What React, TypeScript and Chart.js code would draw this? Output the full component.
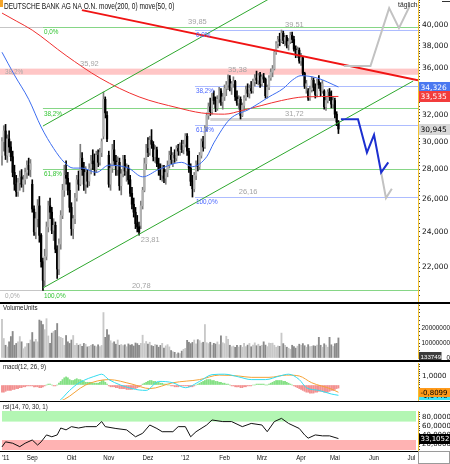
import React, { useEffect, useRef } from 'react';
import { Chart, registerables } from 'chart.js';

Chart.register(...registerables);

// ---------------- data (trading-day index 0 = 9 Aug 2011) ----------------
const title = 'DEUTSCHE BANK AG NA O.N. move(200, 0) move(50, 0)';

// [open, high, low, close]
const ohlc: number[][] = [
  // Aug 2011
  [29.0,30.3,28.3,30.0],[30.0,31.2,29.3,30.8],[30.8,31.3,28.7,29.0],[29.0,30.5,28.5,30.2],[30.2,30.8,29.2,29.6],
  [29.6,30.0,28.6,28.9],[28.9,29.3,27.5,27.8],[27.8,28.3,26.6,27.0],[27.0,27.6,26.2,26.5],[26.5,27.4,26.2,27.1],
  [27.1,27.9,26.6,27.5],[27.5,28.0,26.8,27.0],[27.0,27.6,26.5,27.3],[27.3,28.1,27.0,27.8],[27.8,28.6,27.4,28.3],
  [28.3,28.8,27.6,28.0],[28.0,28.7,27.5,28.4],
  // Sep
  [27.0,27.3,25.2,25.4],[25.4,25.6,23.8,24.0],[24.0,25.2,23.6,24.8],[24.8,26.0,24.3,25.6],[25.6,26.2,23.4,23.8],
  [23.8,23.9,22.0,22.3],[22.3,22.5,20.78,21.3],[21.3,23.0,21.0,22.6],[22.6,24.6,22.4,24.3],[24.3,25.9,24.0,25.6],
  [25.6,26.1,24.8,25.2],[25.2,25.5,23.9,24.1],[24.1,24.8,23.5,24.4],[24.4,24.6,22.8,23.0],[23.0,23.2,21.4,21.9],
  [21.9,23.6,21.6,23.3],[23.3,25.3,23.0,25.0],[25.0,27.0,24.8,26.6],[26.6,28.3,26.2,27.6],[27.6,28.6,27.0,27.4],
  [27.4,27.8,26.3,26.6],[26.6,27.1,25.2,25.5],
  // Okt
  [25.5,25.8,23.8,24.2],[24.2,25.0,23.6,24.8],[24.8,26.4,24.5,26.1],[26.1,27.6,25.9,27.3],[27.3,27.9,26.6,27.0],
  [27.0,29.8,26.9,28.8],[28.8,29.2,27.6,28.0],[28.0,28.5,26.6,27.0],[27.0,28.2,26.4,27.8],[27.8,28.0,26.8,27.2],
  [27.2,28.4,26.9,28.1],[28.1,29.0,27.7,28.6],[28.6,29.4,28.0,28.4],[28.4,29.1,27.6,28.0],[28.0,29.3,27.8,29.0],
  [29.0,29.4,28.2,28.5],[28.5,29.5,28.3,29.2],[29.2,30.2,28.9,30.0],[30.4,33.9,30.2,33.3],[33.3,33.5,31.8,32.2],
  [32.0,32.3,30.0,30.2],
  // Nov
  [29.0,29.3,26.8,27.0],[27.0,28.4,26.6,28.1],[28.1,29.8,27.8,29.4],[29.4,30.1,28.3,28.6],[28.6,29.0,27.6,28.0],
  [28.0,28.9,27.6,28.5],[28.5,28.8,26.6,26.9],[26.9,28.0,26.3,27.7],[27.7,29.0,27.5,28.7],[28.7,29.0,27.6,27.9],
  [27.9,28.4,27.2,28.1],[28.1,28.3,27.0,27.3],[27.3,27.6,26.2,26.4],[26.4,26.8,25.4,25.7],[25.7,26.1,24.9,25.2],
  [25.2,25.5,24.2,24.5],[24.5,25.0,24.0,24.3],[24.3,24.6,23.81,24.0],[24.4,25.9,24.2,25.6],[25.6,26.8,25.4,26.6],
  [26.6,28.8,26.5,28.4],[28.4,29.8,28.0,29.5],
  // Dez
  [29.5,30.3,28.9,29.2],[29.2,30.4,29.0,30.1],[30.1,30.9,29.5,29.8],[29.8,30.0,28.6,28.9],[28.9,29.7,28.5,29.4],
  [29.4,29.6,28.2,28.4],[28.4,28.8,27.6,28.0],[28.0,28.4,27.3,27.6],[27.6,28.3,27.2,28.0],[28.0,28.3,27.1,27.4],
  [27.4,28.0,27.0,27.8],[27.8,28.6,27.5,28.3],[28.3,29.3,28.1,29.0],[29.0,29.6,28.4,28.7],[28.7,29.2,28.2,29.0],
  [29.0,29.4,28.5,28.8],[28.8,29.7,28.6,29.5],[29.5,29.8,29.0,29.3],[29.3,29.9,29.0,29.7],[29.7,30.1,29.2,29.4],
  [29.4,30.1,29.1,29.8],
  // Jan 2012
  [29.8,30.6,29.6,30.4],[30.4,30.6,29.0,29.3],[29.3,29.5,27.8,28.1],[28.1,28.4,26.9,27.2],[27.2,27.6,26.16,26.7],
  [26.7,27.8,26.5,27.6],[27.6,28.6,27.3,28.4],[28.4,29.0,27.9,28.2],[28.2,29.2,28.0,29.0],[29.0,30.2,28.8,30.0],
  [30.0,30.4,29.3,29.6],[29.6,31.2,29.5,31.0],[31.0,32.2,30.8,32.0],[32.0,33.0,31.7,32.7],[32.7,33.4,32.0,32.3],
  [32.3,33.8,32.1,33.5],[33.5,34.0,32.9,33.2],[33.2,33.5,32.3,32.6],[32.6,33.6,32.4,33.3],[33.3,34.3,33.0,34.0],
  [34.0,34.2,32.8,33.1],[33.1,33.8,32.5,33.5],
  // Feb
  [33.5,34.5,33.2,34.2],[34.2,34.8,33.6,34.5],[34.5,35.38,34.1,35.0],[35.0,35.3,34.0,34.3],[34.3,34.8,33.7,34.6],
  [34.6,35.2,34.3,34.8],[34.8,34.9,33.2,33.5],[33.5,34.0,32.8,33.0],[33.0,33.6,32.5,33.3],[33.3,33.5,31.72,32.0],
  [32.0,33.0,31.9,32.8],[32.8,33.6,32.4,33.4],[33.4,34.4,33.2,34.1],[34.1,34.6,33.5,33.8],[33.8,34.5,33.4,34.2],
  [34.2,34.8,33.8,34.0],[34.0,35.0,33.8,34.8],[34.8,35.4,34.4,35.1],[35.1,35.7,34.6,34.9],[34.9,35.5,34.5,35.3],
  [35.3,35.6,34.3,34.6],
  // Mrz
  [34.6,35.4,34.4,35.2],[35.2,35.5,34.7,35.0],[35.0,35.1,33.4,33.6],[33.6,34.5,33.4,34.3],[34.3,35.3,34.1,35.1],
  [35.1,35.9,34.9,35.6],[35.6,36.2,35.2,35.9],[35.9,37.6,35.8,37.4],[37.4,38.4,37.2,38.2],[38.2,38.9,37.8,38.6],
  [38.6,39.2,38.0,38.4],[38.4,39.51,38.3,39.2],[39.2,39.4,38.2,38.5],[38.5,39.0,38.0,38.8],[38.8,39.0,37.8,38.1],
  [38.1,38.7,37.6,38.4],[38.4,39.3,38.2,39.0],[39.0,39.3,38.3,38.6],[38.6,38.9,37.5,37.7],[37.7,38.0,36.9,37.2],
  [37.2,37.9,36.9,37.6],[37.6,37.8,36.4,36.6],
  // Apr / Mai
  [36.6,37.3,36.2,36.9],[36.9,37.0,35.3,35.5],[35.5,35.6,34.2,34.4],[34.4,34.9,33.8,34.6],[34.0,34.2,33.2,33.4],
  [33.4,34.4,33.2,34.1],[34.1,35.2,33.9,34.9],[34.9,35.1,34.0,34.3],[34.3,34.6,33.4,33.7],[33.7,35.0,33.5,34.8],
  [34.8,35.3,34.2,34.5],[34.5,34.7,33.6,34.0],[34.0,34.9,33.8,34.6],[34.0,34.1,32.5,32.7],[32.7,33.5,32.4,33.2],
  [33.2,34.1,33.0,33.9],[33.9,34.2,33.2,33.5],[33.5,34.0,32.6,32.9],[32.9,33.5,32.6,33.2],[33.2,33.4,31.8,32.1],
  [32.1,32.3,31.2,31.5],[31.5,31.6,30.6,30.945],
];

// volume in millions
const volumeM = [
  25.7,13,8.5,7.4,10.8,14.3,17.7,8.5,9.7,10.8,14.3,10.8,6.2,7.4,9.7,9.7,12,
  17,10.8,12.4,10.8,25.3,24.6,22.3,18.9,26.2,14.7,9.7,16.6,17.7,18.4,23,14.3,13.8,13.1,8.5,15,10.8,9.7,
  12,15,8.5,9.7,8.5,9.2,7.8,9.7,9.2,7.4,7.8,8.5,9,8,7.5,8.8,7.6,8.4,30.3,13.8,19,
  15.4,11.5,10,10.8,9.2,12,8.5,9,8.2,8.8,7.5,9.4,8.6,9,8,10,9.6,8.4,9.8,15.2,9.6,11,
  9.2,10.5,8.3,7.8,9,8.6,7.2,8.4,9.8,6.6,8.1,8.9,7.4,5,4.2,3.8,2.6,3.4,2.9,4.6,5.8,
  6.4,11.8,10.5,9.6,10.4,12,9.4,12.2,11.6,10,10.5,22.3,10.2,9.6,10.5,8.6,9.8,9.3,10.7,8.9,14.7,10.2,
  9.6,14.5,12.4,8.5,7.5,8,7.1,8.5,7.3,8.4,7.2,9.8,7.6,8.6,9.7,7.5,8.6,10.1,8.2,9.2,7.9,
  8.5,10.8,8.6,7.6,10,9.8,9.9,8.5,7.2,8,7.8,16.6,9.6,8.4,7.2,6.5,5.8,8.5,7.6,6.6,7.9,9.2,
  8.4,9.6,8.2,7.2,8.9,7.6,7.8,8.2,7.9,8.6,13.8,8.5,7.2,9.5,8.6,7.2,13.8,8.8,7.7,9.5,9.8,13.3749,
];

const ma200Idx = [0, 8, 17, 36, 55, 77, 99, 112, 125, 135, 146, 157, 170, 189];
const ma200Val = [41.2, 40.4, 39.5, 37.1, 35.1, 33.5, 32.6, 32.2, 32.1, 32.4, 32.8, 33.2, 33.5, 33.535];
const ma50Idx = [0, 7, 15, 22, 29, 35, 40, 45, 53, 60, 71, 79, 88, 101, 107, 115, 119, 128, 139, 150, 158, 163, 168, 177, 189];
const ma50Val = [37.4, 35.35, 33.3, 31.1, 29.5, 28.5, 28.1, 28.1, 27.8, 28.3, 28.1, 27.5, 28.0, 28.5, 28.2, 28.9, 29.9, 31.7, 32.5, 33.5, 34.2, 34.9, 35.3, 35.1, 34.326];

const macdIdx = [0, 21, 32, 38, 43, 54, 56, 60, 73, 81, 88, 96, 103, 111, 118, 125, 133, 140, 148, 156, 161, 167, 171, 178, 185, 189];
const macdVal = [-3.0, -2.6, -1.8, -0.6, 0.2, 1.1, 1.2, 0.6, -0.4, -0.6, 0.4, 0.25, -0.3, 0.4, 1.15, 1.2, 0.9, 0.6, 0.6, 1.0, 1.2, 0.6, -0.3, -0.6, -1.0, -1.1446];
const signalIdx = [0, 21, 35, 47, 60, 73, 83, 96, 111, 122, 133, 140, 150, 160, 167, 174, 185, 189];
const signalVal = [-2.2, -2.4, -1.6, 0, 0.6, 0.1, -0.4, 0.25, 0.6, 1.1, 1.0, 0.85, 0.85, 1.1, 1.0, 0.25, -0.45, -0.8099];
const macdHist = [
  -0.8,-0.8,-0.7,-0.6,-0.6,-0.6,-0.5,-0.5,-0.4,-0.4,-0.3,-0.3,-0.2,-0.2,-0.1,-0.1,-0.1,
  -0.1,-0.2,-0.2,-0.2,-0.3,-0.3,-0.2,-0.1,0,0.1,0.1,0,-0.1,-0.1,0,0.2,0.4,0.6,0.8,0.9,0.8,0.6,
  0.5,0.5,0.6,0.7,0.6,0.6,0.5,0.4,0.3,0.3,0.3,0.3,0.2,0.2,0.2,0.2,0.3,0.5,0.5,0.3,0.1,
  -0.1,-0.2,-0.2,-0.2,-0.3,-0.3,-0.4,-0.4,-0.4,-0.4,-0.5,-0.5,-0.5,-0.5,-0.4,-0.4,-0.3,-0.2,-0.1,0.1,0.2,0.3,
  0.4,0.5,0.5,0.4,0.4,0.3,0.3,0.2,0.2,0.1,0.1,0,0,-0.1,-0.1,-0.2,-0.2,-0.2,-0.1,-0.1,-0.1,
  -0.1,-0.1,-0.2,-0.2,-0.2,-0.1,0,0.1,0.2,0.3,0.4,0.5,0.6,0.6,0.6,0.5,0.5,0.4,0.4,0.3,0.3,0.2,
  0.2,0.1,0.1,0,-0.1,-0.1,-0.2,-0.2,-0.2,-0.3,-0.3,-0.2,-0.2,-0.1,-0.1,-0.1,0,0,0.1,0.1,0.1,
  0.1,0.1,0,0,0.1,0.2,0.3,0.4,0.5,0.5,0.5,0.5,0.4,0.4,0.3,0.2,0.1,0,-0.1,-0.2,-0.3,-0.4,
  -0.5,-0.6,-0.7,-0.8,-0.8,-0.9,-0.9,-0.9,-0.8,-0.8,-0.7,-0.7,-0.7,-0.8,-0.8,-0.8,-0.7,-0.6,-0.6,-0.5,-0.4,-0.34,
];

const rsiIdx = [0,2,6,10,13,17,20,22,25,28,31,33,36,39,43,47,53,56,58,64,70,75,79,83,87,90,96,99,103,106,109,115,118,124,129,135,140,146,149,153,157,161,167,170,172,176,180,184,189];
const rsiVal = [15,26,23,15.5,23,30,19,26,41,37,41,56,52,59,56,59,59,70,59,55,52,37,44.5,62.6,55,48,48,59,59,37,48,62.6,73.5,70,70,59,66,62.6,48,70,77,66,55,41,34,41,39,39,33.1052];

const monthIdx = [2, 17, 39, 60, 82, 103, 125, 146, 168, 187, 209, 230];
const monthLabels = ["'11", 'Sep', 'Okt', 'Nov', 'Dez', "'12", 'Feb', 'Mrz', 'Apr', 'Mai', 'Jun', 'Jul'];

const priceTickLabels = [22, 24, 26, 28, 30, 32, 34, 36, 38, 40];
const volumeTickLabels = [0, 10, 20];
const macdTickLabels = [-1, 1];
const rsiTickLabels = [20, 40, 60, 80];
const rsiBands = [30, 70];

// drawing objects (date index / price)
const greenFibStart = 23;
const greenFibLevels = [39.85, 32.57, 28.06, 20.78];
const blueFibStart = 108.4;
const blueFibLevels = [39.51, 34.41, 31.26, 26.16];
const fibLabels = ['0,0%', '38,2%', '61,8%', '100,0%'];
const pinkBand = [35.38, 35.92];
const supportLevel = 31.72;
const supportSpan = [117, 187];
const markLevels = [39.85, 39.51, 35.92, 35.38, 31.72, 26.16, 23.81, 20.78];
const markIdx = [104.5, 159, 43.8, 127, 159, 133, 78, 73];
const markBelow = [false, false, false, false, false, false, true, false];
const leftLabelIdx = 1.7;

const redTrendIdx = [44.9, 233.7];
const redTrendVal = [41.5, 34.9];
const channelLowIdx = [23, 231];
const channelLowVal = [20.9, 34.84];
const channelHighIdx = [23, 160];
const channelHighVal = [31.17, 43.73];

const blueProjIdx = [190.4, 200, 205, 209, 213, 217];
const blueProjVal = [31.7, 31.7, 29.2, 30.5, 27.8, 28.5];
const greyProjUpIdx = [192, 207, 217.5, 223, 229];
const greyProjUpVal = [36.15, 36.15, 41.7, 39.7, 41.9];
const greyProjDownIdx = [213, 215.7, 219];
const greyProjDownVal = [27.8, 26.1, 26.7];

// ---------------- layout / helpers ----------------
const W = 450;
const AXIS_W = 32;
const X_MIN = -1.12;
const X_MAX = 233.7;
const P_MIN = 20.19;
const P_MAX = 42.55;
const UI_FONT = '"Liberation Sans", Arial, sans-serif';
const AX_FONT = '"DejaVu Sans", Verdana, sans-serif';

const comma = (v: number, d: number) => v.toFixed(d).replace('.', ',');
const last = (a: any[]) => a[a.length - 1];
const pts = (xs: number[], ys: number[]) => xs.map((x, i) => ({ x, y: ys[i] }));
const tickRange = (a: number, b: number, s: number) => {
  const out: number[] = [];
  for (let v = a; v <= b + 1e-9; v += s) out.push(Math.round(v * 1000) / 1000);
  return out;
};

function fixAxis(s: any) {
  s.width = AXIS_W;
  s.paddingTop = 0; s.paddingBottom = 0; s.paddingLeft = 0; s.paddingRight = 0;
}

function uiText(ctx: any, text: string, x: number, y: number, size: number, color: string, sx = 0.82, align = 'left', baseline = 'middle') {
  ctx.save();
  ctx.translate(x, y);
  ctx.scale(sx, 1);
  ctx.font = `${size}px ${UI_FONT}`;
  ctx.fillStyle = color;
  ctx.textAlign = align;
  ctx.textBaseline = baseline;
  ctx.fillText(text, 0, 0);
  ctx.restore();
}

function seg(ctx: any, x1: number, x2: number, y: number, color: string, lw = 1) {
  ctx.save();
  ctx.strokeStyle = color;
  ctx.lineWidth = lw;
  const yy = lw % 2 === 1 ? Math.round(y) + 0.5 : Math.round(y);
  ctx.beginPath();
  ctx.moveTo(x1, yy);
  ctx.lineTo(x2, yy);
  ctx.stroke();
  ctx.restore();
}

function tag(ctx: any, chart: any, y: number, text: string, bg: string, fg: string, h = 11, size = 7.5, w = 0, font = AX_FONT) {
  const x0 = chart.chartArea.right + 1;
  const ww = w || chart.width - x0;
  const top = Math.round(y - h / 2);
  ctx.save();
  ctx.fillStyle = bg;
  ctx.fillRect(x0, top, ww, h);
  ctx.beginPath();
  ctx.rect(x0, top, ww, h);
  ctx.clip();
  ctx.fillStyle = fg;
  ctx.font = `${size}px ${font}`;
  ctx.textAlign = 'left';
  ctx.textBaseline = 'middle';
  ctx.fillText(text, x0 + 1.5, top + h / 2 + 0.5);
  ctx.restore();
}

const baseOptions = (padding: any) => ({
  responsive: false,
  maintainAspectRatio: false,
  animation: false,
  devicePixelRatio: 1,
  events: [],
  layout: { padding },
  plugins: { legend: { display: false }, tooltip: { enabled: false } },
});

const xScale = { type: 'linear', min: X_MIN, max: X_MAX, display: false, offset: false, grid: { offset: false } };

function yAxis(extra: any) {
  return {
    position: 'right',
    afterFit: fixAxis,
    grid: { drawOnChartArea: false, drawTicks: true, tickLength: 2, color: '#444', lineWidth: 1 },
    border: { display: true, color: '#f2c230', width: 1 },
    ...extra,
  };
}

const isUp = ohlc.map((c) => c[3] >= c[0]);

// ---------------- price chart ----------------
const pricePlugin = {
  id: 'priceDeco',
  beforeDatasetsDraw(chart: any) {
    const { ctx, chartArea: a, scales } = chart;
    const X = (v: number) => scales.x.getPixelForValue(v);
    const Y = (v: number) => scales.y.getPixelForValue(v);
    ctx.save();
    ctx.beginPath();
    ctx.rect(a.left, a.top, a.right - a.left, a.bottom - a.top);
    ctx.clip();
    const yTop = Y(pinkBand[1]);
    const yBot = Y(pinkBand[0]);
    ctx.fillStyle = '#ffc6c6';
    ctx.fillRect(a.left, yTop, a.right - a.left, yBot - yTop);
    seg(ctx, X(supportSpan[0]), X(supportSpan[1]), Y(supportLevel), '#d4d4d4', 3);
    seg(ctx, a.left, X(greenFibStart), Y(greenFibLevels[0]), '#c6c6c6');
    seg(ctx, a.left, X(greenFibStart), Y(greenFibLevels[3]), '#c6c6c6');
    greenFibLevels.forEach((l) => seg(ctx, X(greenFibStart), a.right, Y(l), '#86d686'));
    blueFibLevels.forEach((l) => seg(ctx, X(blueFibStart), a.right, Y(l), '#adbcff'));
    ctx.restore();
  },
  afterDatasetsDraw(chart: any) {
    const { ctx, scales } = chart;
    const X = (v: number) => scales.x.getPixelForValue(v);
    const Y = (v: number) => scales.y.getPixelForValue(v);
    greenFibLevels.forEach((l, i) => uiText(ctx, fibLabels[i], X(greenFibStart) + 1, Y(l) + 2, 7.5, '#33c433', 0.85, 'left', 'top'));
    blueFibLevels.forEach((l, i) => uiText(ctx, fibLabels[i], X(blueFibStart) + 1, Y(l) + 1, 7.5, '#4a66ff', 0.85, 'left', 'top'));
    markLevels.forEach((l, i) => {
      const below = markBelow[i];
      uiText(ctx, comma(l, 2), X(markIdx[i]), below ? Y(l) + 1 : Y(l) - 1, 7.5, '#a4a4a4', 1, 'left', below ? 'top' : 'bottom');
    });
    uiText(ctx, '38,2%', X(leftLabelIdx), (Y(pinkBand[0]) + Y(pinkBand[1])) / 2 + 0.5, 7.5, '#a8a8a8', 0.85);
    uiText(ctx, '0,0%', X(leftLabelIdx), Y(greenFibLevels[3]) + 2, 7.5, '#a8a8a8', 0.85, 'left', 'top');
  },
  afterDraw(chart: any) {
    const { ctx, scales } = chart;
    const Y = (v: number) => scales.y.getPixelForValue(v);
    ctx.save();
    ctx.fillStyle = '#f4a52a';
    ctx.fillRect(0, 0, 3, 7);
    ctx.fillStyle = '#333';
    ctx.fillRect(442, 1, 8, 1);
    ctx.restore();
    uiText(ctx, title, 4, 7, 8.2, '#111', 0.8);
    uiText(ctx, 'täglich', 398, 5, 7.5, '#222', 0.9);
    tag(ctx, chart, Y(last(ma50Val)), comma(last(ma50Val), 3), '#4a78f0', '#fff');
    tag(ctx, chart, Y(last(ma200Val)), comma(last(ma200Val), 3), '#f23c3c', '#fff');
    tag(ctx, chart, Y(last(ohlc)[3]), comma(last(ohlc)[3], 3), '#d8d8d8', '#000');
  },
};

function priceConfig(): any {
  const lineDs = (data: any[], color: string, width: number, order: number, smooth = false) => ({
    type: 'line', data, borderColor: color, borderWidth: width, pointRadius: 0, fill: false, order,
    cubicInterpolationMode: smooth ? 'monotone' : 'default', tension: 0,
  });
  return {
    type: 'bar',
    data: {
      datasets: [
        {
          type: 'bar', data: ohlc.map((c, i) => ({ x: i, y: [c[2], c[1]] })),
          backgroundColor: isUp.map((u) => (u ? '#7c7c7c' : '#000')), barThickness: 1, grouped: false, order: 11,
        },
        {
          type: 'bar', data: ohlc.map((c, i) => ({ x: i, y: [Math.min(c[0], c[3]), Math.max(c[0], c[3])] })),
          backgroundColor: isUp.map((u) => (u ? '#b2b2b2' : '#000')), barThickness: 1.6, minBarLength: 1, grouped: false, order: 10,
        },
        lineDs(pts(ma200Idx, ma200Val), '#f03030', 1, 6, true),
        lineDs(pts(ma50Idx, ma50Val), '#3d6df0', 1, 5, true),
        lineDs(pts(channelLowIdx, channelLowVal), '#2ea82e', 1, 4),
        lineDs(pts(channelHighIdx, channelHighVal), '#2ea82e', 1, 4),
        lineDs(pts(redTrendIdx, redTrendVal), '#f01414', 2, 2),
        lineDs(pts(greyProjUpIdx, greyProjUpVal), '#c2c2c2', 2, 1),
        lineDs(pts(greyProjDownIdx, greyProjDownVal), '#c2c2c2', 2, 1),
        lineDs(pts(blueProjIdx, blueProjVal), '#1c2fd0', 2, 0),
      ],
    },
    options: {
      ...baseOptions({ top: 0, bottom: 0, left: 0, right: 0 }),
      scales: {
        x: xScale,
        y: yAxis({
          type: 'logarithmic', min: P_MIN, max: P_MAX,
          afterBuildTicks: (s: any) => { s.ticks = tickRange(20.5, 42.5, 0.25).map((v) => ({ value: v })); },
          ticks: {
            autoSkip: false, padding: 2, color: '#111', font: { family: 'DejaVu Sans', size: 7.5 },
            callback: (v: number) => (priceTickLabels.includes(v) ? comma(v, 3) : ''),
          },
        }),
      },
    },
    plugins: [pricePlugin],
  };
}

// ---------------- volume chart ----------------
const volumePlugin = {
  id: 'volDeco',
  afterDraw(chart: any) {
    const { ctx, scales } = chart;
    uiText(ctx, 'VolumeUnits', 3, 4, 7.5, '#222', 0.82);
    const y0 = scales.y.getPixelForValue(0);
    tag(ctx, chart, y0 - 2, String(Math.round(last(volumeM) * 1e6)), '#3c3c3c', '#fff', 9, 6.2, 22.5, UI_FONT);
  },
};

function volumeConfig(): any {
  return {
    type: 'bar',
    data: {
      datasets: [{
        data: volumeM.map((v, i) => ({ x: i, y: v })),
        backgroundColor: isUp.map((u) => (u ? '#c8c8c8' : '#8a8a8a')),
        barThickness: 1.2, grouped: false,
      }],
    },
    options: {
      ...baseOptions({ top: 0, bottom: 2, left: 0, right: 0 }),
      scales: {
        x: xScale,
        y: yAxis({
          type: 'linear', min: 0, max: 36,
          afterBuildTicks: (s: any) => { s.ticks = tickRange(0, 35, 2.5).map((v) => ({ value: v })); },
          ticks: {
            autoSkip: false, padding: 2, crossAlign: 'far', color: '#111', font: { family: 'Liberation Sans', size: 6.4 },
            callback: (v: number) => (volumeTickLabels.includes(v) ? String(v * 1e6) : ''),
          },
        }),
      },
    },
    plugins: [volumePlugin],
  };
}

// ---------------- macd chart ----------------
const macdPlugin = {
  id: 'macdDeco',
  afterDraw(chart: any) {
    const { ctx, scales } = chart;
    const Y = (v: number) => scales.y.getPixelForValue(v);
    uiText(ctx, 'macd(12, 26, 9)', 3, 5, 7.5, '#222', 0.82);
    tag(ctx, chart, Y(last(macdVal)), comma(last(macdVal), 4), '#40e2f4', '#000', 9, 7);
    tag(ctx, chart, Y(last(signalVal)), comma(last(signalVal), 4), '#ff9a1a', '#000', 9, 7);
  },
};

function macdConfig(): any {
  return {
    type: 'bar',
    data: {
      datasets: [
        {
          type: 'line', data: pts(macdIdx, macdVal), borderColor: '#33dcf0', borderWidth: 1, pointRadius: 0,
          cubicInterpolationMode: 'monotone', order: 0,
        },
        {
          type: 'line', data: pts(signalIdx, signalVal), borderColor: '#f5a236', borderWidth: 1, pointRadius: 0,
          cubicInterpolationMode: 'monotone', order: 1,
        },
        {
          type: 'bar', data: macdHist.map((v, i) => ({ x: i, y: v })),
          backgroundColor: macdHist.map((v) => (v >= 0 ? '#84e084' : '#f29090')),
          barThickness: 1.2, grouped: false, order: 2,
        },
      ],
    },
    options: {
      ...baseOptions({ top: 1, bottom: 1, left: 0, right: 0 }),
      scales: {
        x: xScale,
        y: yAxis({
          type: 'linear', min: -1.667, max: 2.444,
          afterBuildTicks: (s: any) => { s.ticks = tickRange(-1.5, 2.25, 0.25).map((v) => ({ value: v })); },
          ticks: {
            autoSkip: false, padding: 2, color: '#111', font: { family: 'DejaVu Sans', size: 7 },
            callback: (v: number) => (macdTickLabels.includes(v) ? comma(v, 4) : ''),
          },
        }),
      },
    },
    plugins: [macdPlugin],
  };
}

// ---------------- rsi chart ----------------
const rsiPlugin = {
  id: 'rsiDeco',
  beforeDatasetsDraw(chart: any) {
    const { ctx, chartArea: a, scales } = chart;
    const Y = (v: number) => scales.y.getPixelForValue(v);
    ctx.save();
    ctx.fillStyle = '#b3f6b3';
    ctx.fillRect(a.left + 2, a.top, a.right - a.left - 4, Y(rsiBands[1]) - a.top);
    ctx.fillStyle = '#ffb3b3';
    ctx.fillRect(a.left + 2, Y(rsiBands[0]), a.right - a.left - 4, a.bottom - 1 - Y(rsiBands[0]));
    ctx.restore();
  },
  afterDraw(chart: any) {
    const { ctx, chartArea: a, scales } = chart;
    const X = (v: number) => scales.x.getPixelForValue(v);
    const Y = (v: number) => scales.y.getPixelForValue(v);
    uiText(ctx, 'rsi(14, 70, 30, 1)', 3, 5, 7.5, '#222', 0.82);
    ctx.save();
    ctx.fillStyle = '#000';
    ctx.fillRect(0, Math.round(a.bottom), a.right, 1);
    ctx.strokeStyle = '#9a9a9a';
    ctx.lineWidth = 1;
    ctx.strokeRect(a.right + 0.5, Math.round(a.bottom) + 0.5, chart.width - a.right - 1, chart.height - a.bottom - 1);
    ctx.restore();
    monthIdx.forEach((m, i) => uiText(ctx, monthLabels[i], X(m), a.bottom + 7, 7.5, '#111', 0.82, 'center'));
    tag(ctx, chart, Y(last(rsiVal)), comma(last(rsiVal), 4), '#000', '#fff', 10, 7);
  },
};

function rsiConfig(): any {
  return {
    type: 'line',
    data: {
      datasets: [{
        data: pts(rsiIdx, rsiVal), borderColor: '#111', borderWidth: 1, pointRadius: 0, tension: 0,
      }],
    },
    options: {
      ...baseOptions({ top: 9, bottom: 13, left: 0, right: 0 }),
      scales: {
        x: xScale,
        y: yAxis({
          type: 'linear', min: 6.1, max: 93,
          afterBuildTicks: (s: any) => { s.ticks = tickRange(10, 90, 5).map((v) => ({ value: v })); },
          ticks: {
            autoSkip: false, padding: 2, color: '#111', font: { family: 'DejaVu Sans', size: 7 },
            callback: (v: number) => (rsiTickLabels.includes(v) ? comma(v, 4) : ''),
          },
        }),
      },
    },
    plugins: [rsiPlugin],
  };
}

// ---------------- component ----------------
export default function App() {
  const pRef = useRef<HTMLCanvasElement>(null);
  const vRef = useRef<HTMLCanvasElement>(null);
  const mRef = useRef<HTMLCanvasElement>(null);
  const rRef = useRef<HTMLCanvasElement>(null);

  useEffect(() => {
    const charts = [
      new Chart(pRef.current as HTMLCanvasElement, priceConfig()),
      new Chart(vRef.current as HTMLCanvasElement, volumeConfig()),
      new Chart(mRef.current as HTMLCanvasElement, macdConfig()),
      new Chart(rRef.current as HTMLCanvasElement, rsiConfig()),
    ];
    return () => charts.forEach((c) => c.destroy());
  }, []);

  const cv = (top: number, h: number): any => ({ position: 'absolute', left: 0, top, width: W, height: h, display: 'block' });
  const sep = (top: number, h: number): any => ({ position: 'absolute', left: 0, top, width: W, height: h, background: '#000' });

  return (
    <div style={{ position: 'fixed', left: 0, top: 0, width: W, height: 464, background: '#fff', overflow: 'hidden' }}>
      <canvas ref={pRef} width={W} height={302} style={cv(0, 302)} />
      <div style={sep(302, 2)} />
      <canvas ref={vRef} width={W} height={56} style={cv(304, 56)} />
      <div style={sep(360, 2)} />
      <canvas ref={mRef} width={W} height={39} style={cv(362, 39)} />
      <div style={sep(401, 1)} />
      <canvas ref={rRef} width={W} height={62} style={cv(402, 62)} />
    </div>
  );
}
